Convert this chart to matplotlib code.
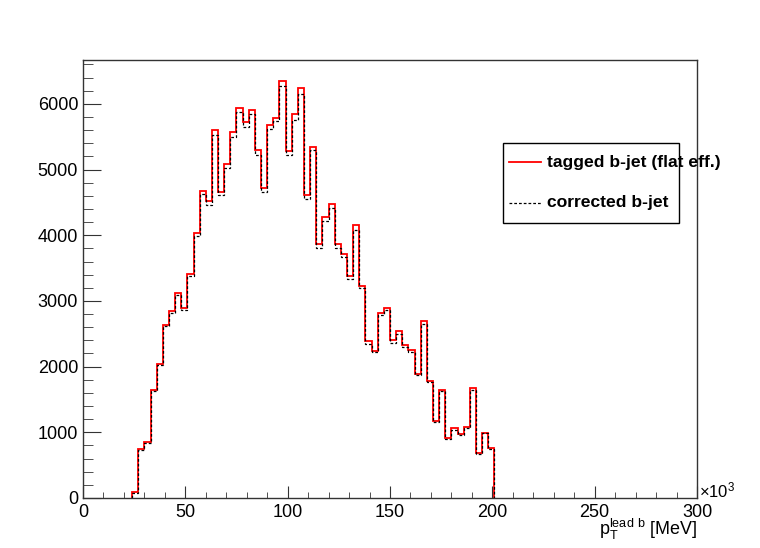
import numpy as np
import matplotlib
matplotlib.use('Agg')
import matplotlib.pyplot as plt
from matplotlib.patches import Rectangle
from matplotlib.lines import Line2D

plt.rcParams['font.family'] = ['Liberation Sans', 'DejaVu Sans']
plt.rcParams['mathtext.default'] = 'regular'

# bins of 3 (x10^3 MeV), from 24 to 201
bin_lo = 24
bin_hi = 201
bin_w = 3

# tagged b-jet (flat eff.)
tagged = [85, 745, 845, 1645, 2035, 2640, 2840, 3120, 2890, 3410,
          4030, 4680, 4515, 5595, 4655, 5085, 5565, 5935, 5720, 5910,
          5290, 4720, 5685, 5785, 6350, 5280, 5845, 6235, 4605, 5350,
          3870, 4275, 4475, 3865, 3720, 3385, 4150, 3220, 2390, 2235,
          2815, 2890, 2400, 2540, 2325, 2260, 1895, 2700, 1785, 1175,
          1650, 920, 1060, 975, 1075, 1675, 680, 995, 765]

# corrected b-jet
corrected = [70, 730, 830, 1630, 2020, 2615, 2815, 3095, 2855, 3375,
             3995, 4635, 4460, 5530, 4605, 5020, 5500, 5870, 5655, 5845,
             5225, 4665, 5610, 5735, 6275, 5225, 5760, 6150, 4555, 5290,
             3805, 4215, 4410, 3810, 3665, 3340, 4075, 3200, 2350, 2225,
             2790, 2855, 2365, 2490, 2300, 2225, 1870, 2655, 1770, 1160,
             1630, 905, 1035, 955, 1060, 1640, 670, 985, 745]

edges = np.arange(bin_lo, bin_hi + 1, bin_w)

W, H = 760, 548
fig = plt.figure(figsize=(W / 100, H / 100), dpi=100)
ax = fig.add_axes([83 / W, 50 / H, 614 / W, 438 / H])

ax.stairs(tagged, edges, baseline=0, color='red', lw=1.3)
ax.stairs(corrected, edges, baseline=0, color='black', lw=0.9,
          linestyle=(0, (2.2, 1.6)))

ax.set_xlim(0, 300)
ax.set_ylim(0, max(tagged) * 1.05)
ax.set_xticks(np.arange(0, 301, 50))
ax.set_xticks(np.arange(0, 301, 10), minor=True)
ax.set_yticks(np.arange(0, 6001, 1000))
ax.set_yticks(np.arange(0, 6601, 200), minor=True)

ax.tick_params(axis='both', which='both', direction='in', top=False, right=False,
               labelsize=13, color='#333333')
ax.tick_params(axis='y', which='major', length=13, pad=3.5)
ax.tick_params(axis='y', which='minor', length=7)
ax.tick_params(axis='x', which='major', length=8.6, pad=4)
ax.tick_params(axis='x', which='minor', length=4.3)
for s in ax.spines.values():
    s.set_color('#333333')
    s.set_linewidth(1.0)

# axis title and exponent, ROOT style
fig.text(697 / W, 1 - 535.5 / H, r'$p_{T}^{lead\ b}$ [MeV]', ha='right', va='baseline', fontsize=13)
fig.text(699 / W, 1 - 497 / H, r'$\times$10$^{3}$', ha='left', va='baseline', fontsize=12)

# legend box (text overflows like in ROOT)
fig.patches.append(Rectangle((502.7 / W, 1 - 223.3 / H), (679 - 502.7) / W, (223.3 - 142.7) / H,
                             transform=fig.transFigure, fill=False, edgecolor='black', lw=1.0))
fig.lines.append(Line2D([509 / W, 541 / W], [1 - 162 / H] * 2, transform=fig.transFigure,
                        color='red', lw=1.3))
fig.lines.append(Line2D([509 / W, 541 / W], [1 - 202.7 / H] * 2, transform=fig.transFigure,
                        color='black', lw=0.9, linestyle=(0, (2.2, 1.6))))
fig.text(546.7 / W, 1 - 162 / H, 'tagged b-jet (flat eff.)', ha='left', va='center',
         fontsize=12.6, fontweight='bold')
fig.text(546.7 / W, 1 - 202.7 / H, 'corrected b-jet', ha='left', va='center',
         fontsize=12.6, fontweight='bold')

fig.savefig('out.png', dpi=100, facecolor='white')
